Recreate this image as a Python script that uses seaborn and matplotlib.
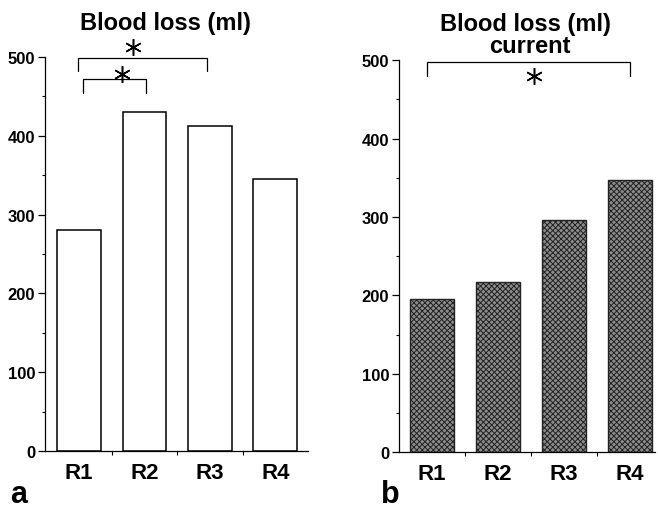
import matplotlib
matplotlib.use("Agg")
import matplotlib.pyplot as plt
from matplotlib.ticker import MultipleLocator, FixedLocator
import seaborn as sns
import pandas as pd

categories = ["R1", "R2", "R3", "R4"]
blood_loss_a = [280, 430, 413, 345]
blood_loss_b = [196, 217, 296, 347]
y_ticks = [0, 100, 200, 300, 400, 500]

sns.set_theme(style="ticks")
plt.rcParams["font.family"] = ["Liberation Sans", "DejaVu Sans"]
plt.rcParams["font.weight"] = "bold"
plt.rcParams["text.color"] = "black"
plt.rcParams["xtick.color"] = "black"
plt.rcParams["ytick.color"] = "black"
plt.rcParams["xtick.labelcolor"] = "black"
plt.rcParams["ytick.labelcolor"] = "black"
plt.rcParams["hatch.color"] = "#2e2e2e"
plt.rcParams["hatch.linewidth"] = 0.7

fig = plt.figure(figsize=(6.58, 5.10), dpi=100)
axA = fig.add_axes([0.0684, 0.1137, 0.3997, 0.7725])
axB = fig.add_axes([0.6064, 0.1112, 0.3890, 0.7690])

dfA = pd.DataFrame({"cat": categories, "val": blood_loss_a})
dfB = pd.DataFrame({"cat": categories, "val": blood_loss_b})

sns.barplot(data=dfA, x="cat", y="val", ax=axA, color="white",
            edgecolor="black", linewidth=1.1, width=0.67, saturation=1)
sns.barplot(data=dfB, x="cat", y="val", ax=axB, color="#8c8c8c",
            edgecolor="#222222", linewidth=1.0, width=0.67, saturation=1)
for p in axB.patches:
    p.set_hatch("xxxxxx")


def style(ax, xlim):
    ax.set_xlim(*xlim)
    ax.set_ylim(0, 500)
    ax.set_xlabel("")
    ax.set_ylabel("")
    ax.yaxis.set_major_locator(FixedLocator(y_ticks))
    ax.yaxis.set_minor_locator(MultipleLocator(50))
    ax.set_yticklabels([str(t) for t in y_ticks], fontsize=12, fontweight="bold")
    ax.xaxis.set_minor_locator(FixedLocator([0.5, 1.5, 2.5]))
    ax.tick_params(axis="x", which="major", length=0, pad=8, labelsize=16)
    ax.tick_params(axis="x", which="minor", length=3, width=0.8, direction="out")
    ax.tick_params(axis="y", which="major", length=5, width=0.9, pad=2)
    ax.tick_params(axis="y", which="minor", length=2.5, width=0.8)
    for lab in ax.get_xticklabels():
        lab.set_fontweight("bold")
    sns.despine(ax=ax)
    for s in ("left", "bottom"):
        ax.spines[s].set_linewidth(0.9)
        ax.spines[s].set_color("black")


style(axA, (-0.52, 3.5))
style(axB, (-0.5, 3.38))


def bracket(ax, x0, x1, ytop, ybot):
    ax.plot([x0, x0, x1, x1], [ybot, ytop, ytop, ybot], color="black",
            lw=0.9, clip_on=False, solid_joinstyle="miter")


def star(ax, x, y):
    ax.plot([x], [y], marker=(6, 2, 0), ms=12, mew=1.1, color="black",
            clip_on=False)


# panel a brackets
bracket(axA, -0.02, 1.96, 499, 482)
star(axA, 0.82, 513)
bracket(axA, 0.06, 1.02, 472, 454)
star(axA, 0.66, 478)

# panel b bracket
bracket(axB, -0.08, 3.0, 498, 480)
star(axB, 1.55, 480)

fig.text(0.252, 0.953, "Blood loss (ml)", ha="center", va="center",
         fontsize=17, fontweight="bold")
fig.text(0.798, 0.951, "Blood loss (ml)", ha="center", va="center",
         fontsize=17, fontweight="bold")
fig.text(0.805, 0.909, "current", ha="center", va="center",
         fontsize=17, fontweight="bold")

fig.text(0.028, 0.014, "a", ha="center", va="baseline", fontsize=22, fontweight="bold")
fig.text(0.593, 0.014, "b", ha="center", va="baseline", fontsize=22, fontweight="bold")

fig.savefig("out.png", dpi=100, facecolor="white")
